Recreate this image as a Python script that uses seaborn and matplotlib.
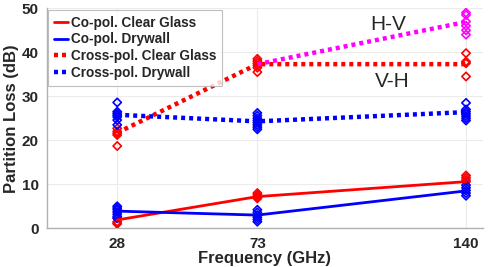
import matplotlib
matplotlib.use("Agg")
import matplotlib.pyplot as plt
import numpy as np
import pandas as pd
import seaborn as sns

# ── Data ──────────────────────────────────────────────────────────────────────
freqs = [28, 73, 140]

co_glass_mean = [1.9, 7.2, 10.6]
co_dry_mean = [3.9, 3.0, 8.5]
cross_glass_mean = [21.7, 37.3, 37.3]     # V-H
cross_dry_mean = [25.8, 24.3, 26.4]
hv_freqs = [73, 140]
hv_mean = [37.3, 46.9]                    # H-V

# individual measurements (diamonds)
co_glass_pts = {28: [2.3, 1.5, 1.2, 1.0], 73: [8.0, 7.6, 7.2, 7.0, 6.8],
                140: [12.0, 11.5, 11.0, 10.6]}
co_dry_pts = {28: [5.0, 4.6, 4.2, 3.7, 3.2, 2.7, 2.3],
              73: [4.2, 3.6, 3.0, 2.5, 2.0, 1.5],
              140: [9.8, 9.2, 8.6, 8.0, 7.4]}
cross_glass_pts = {28: [22.7, 22.0, 21.6, 21.2, 18.7],
                   73: [38.5, 38.0, 37.5, 37.0, 36.5, 35.5],
                   140: [39.8, 37.9, 37.5, 34.5]}
cross_dry_pts = {28: [28.6, 26.5, 26.1, 25.7, 25.3, 24.6, 23.5],
                 73: [26.2, 25.6, 25.0, 24.5, 24.0, 23.5, 23.0, 22.5],
                 140: [28.5, 27.0, 26.5, 26.0, 25.5, 25.0, 24.5]}
hv_pts = {140: [49.0, 48.5, 47.0, 46.0, 45.0, 44.0]}

labels = ["Co-pol. Clear Glass", "Co-pol. Drywall",
          "Cross-pol. Clear Glass", "Cross-pol. Drywall"]

RED, BLUE, MAGENTA = "#ff0000", "#0000ff", "#ff00ff"


def to_df(pts):
    rows = [(f, v) for f, vals in pts.items() for v in vals]
    return pd.DataFrame(rows, columns=["freq", "loss"])


sns.set_style("white")
plt.rcParams["font.family"] = ["Liberation Sans", "DejaVu Sans"]
plt.rcParams["font.weight"] = "bold"

fig = plt.figure(figsize=(4.93, 2.67), dpi=100)
ax = fig.add_axes([0.095, 0.145, 0.885, 0.824])

# ── Measurement markers ───────────────────────────────────────────────────────
for pts, col in [(co_glass_pts, RED), (co_dry_pts, BLUE),
                 (cross_glass_pts, RED), (cross_dry_pts, BLUE),
                 (hv_pts, MAGENTA)]:
    sns.scatterplot(data=to_df(pts), x="freq", y="loss", marker="D",
                    s=18, facecolor="none", edgecolor=col, linewidth=1.2,
                    ax=ax, zorder=3, legend=False)

# ── Mean lines ────────────────────────────────────────────────────────────────
dot = (0, (0.9, 0.9))
sns.lineplot(x=hv_freqs, y=hv_mean, color=MAGENTA, lw=3.2, linestyle=dot,
             ax=ax, zorder=4)
series = [(co_glass_mean, RED, "-", 2.0), (co_dry_mean, BLUE, "-", 2.0),
          (cross_glass_mean, RED, dot, 3.2), (cross_dry_mean, BLUE, dot, 3.2)]
handles = []
for (vals, col, ls, lw), lab in zip(series, labels):
    sns.lineplot(x=freqs, y=vals, color=col, lw=lw, linestyle=ls, ax=ax,
                 zorder=4)
    handles.append(ax.lines[-1])

ax.text(115, 46.2, "H-V", fontsize=15, fontweight="normal", ha="center",
        va="center")
ax.text(116.3, 33.3, "V-H", fontsize=15, fontweight="normal", ha="center",
        va="center")

# ── Axes styling ──────────────────────────────────────────────────────────────
ax.set_xlim(5.4, 145.5)
ax.set_ylim(0, 50)
ax.set_xticks(freqs)
ax.set_yticks(range(0, 51, 10))
ax.grid(True, color="#ebebeb", lw=0.8)
ax.tick_params(labelsize=11, length=0, pad=6)
for t in ax.get_xticklabels() + ax.get_yticklabels():
    t.set_fontweight("bold")
    t.set_color("#262626")
for side in ["top", "right"]:
    ax.spines[side].set_visible(False)
for side in ["left", "bottom"]:
    ax.spines[side].set_color("#b0b0b0")
    ax.spines[side].set_linewidth(1.0)

ax.set_xlabel("Frequency (GHz)", fontsize=12, fontweight="bold",
              color="#262626", labelpad=0)
ax.set_ylabel("Partition Loss (dB)", fontsize=12, fontweight="bold",
              color="#262626", labelpad=2)

leg = ax.legend(handles, labels, loc="upper left", bbox_to_anchor=(0, 1),
                borderaxespad=0.1, handlelength=1.0,
                handletextpad=0.2, labelspacing=0.2, borderpad=0.45,
                frameon=True, fancybox=False, prop={"weight": "bold",
                                                     "size": 9.8})
leg.get_frame().set_edgecolor("#b0b0b0")
leg.get_frame().set_linewidth(0.8)

fig.savefig("out.png", dpi=100)
